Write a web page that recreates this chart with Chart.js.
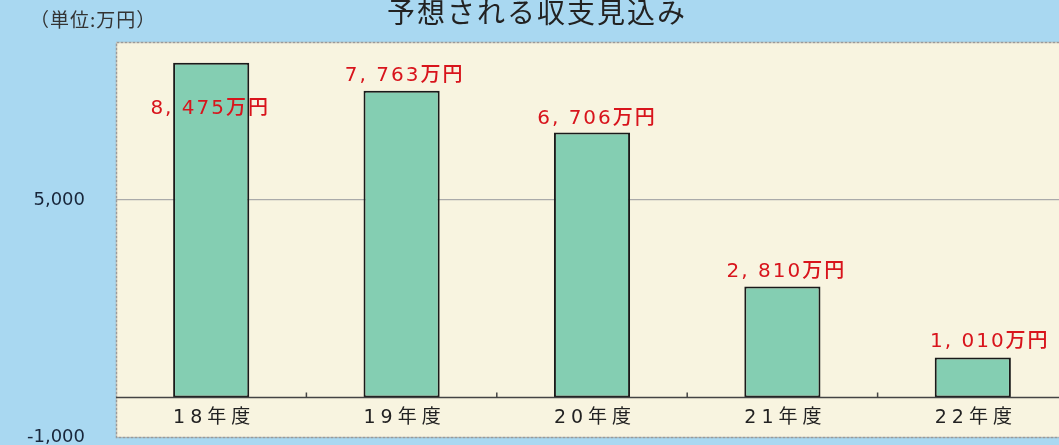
<!DOCTYPE html>
<html>
<head>
<meta charset="utf-8">
<script src="https://cdn.jsdelivr.net/npm/chart.js@4.4.1/dist/chart.umd.min.js"></script>
<style>
  html, body { margin: 0; padding: 0; overflow: hidden; background: #a9d8f1; }
</style>
</head>
<body>
<canvas id="grafico" width="1068" height="445"></canvas>
<script>
// データ
const nendo = ["18年度", "19年度", "20年度", "21年度", "22年度"];
const shushi = [8475, 7763, 6706, 2810, 1010];
const rabel = ["8, 475万円", "7, 763万円", "6, 706万円", "2, 810万円", "1, 010万円"];
const yTicks = [-1000, 5000];
const taitoru = "予想される収支見込み";
const tani = "（単位:万円）";

const fontJP = "'Noto Sans CJK JP', sans-serif";
const fontNum = "'DejaVu Sans', 'Noto Sans CJK JP', sans-serif";

// 背景・枠・文字
const haikei = {
  id: "haikei",
  beforeDraw(chart) {
    const { ctx, chartArea: a } = chart;
    ctx.save();
    ctx.fillStyle = "#a9d8f1";
    ctx.fillRect(0, 0, chart.width, chart.height);
    ctx.fillStyle = "#f8f4e0";
    ctx.fillRect(a.left, a.top, a.right - a.left, a.bottom - a.top);
    ctx.strokeStyle = "#9a9a9a";
    ctx.lineWidth = 1.5;
    ctx.setLineDash([3, 1]);
    ctx.strokeRect(a.left + 0.5, a.top + 0.5, a.right - a.left + 5, a.bottom - a.top);
    ctx.setLineDash([]);
    // タイトル
    ctx.fillStyle = "#222";
    ctx.font = "28px " + fontJP;
    ctx.letterSpacing = "2px";
    ctx.textAlign = "center";
    ctx.textBaseline = "middle";
    ctx.fillText(taitoru, 537, 12);
    ctx.font = "19px " + fontJP;
    ctx.letterSpacing = "1px";
    ctx.textAlign = "left";
    ctx.fillStyle = "#333";
    ctx.fillText(tani, 30, 20);
    ctx.restore();
  },
  afterDatasetsDraw(chart) {
    const { ctx, chartArea: a } = chart;
    const x = chart.scales.x, y = chart.scales.y;
    const y0 = y.getPixelForValue(0);
    ctx.save();
    // 基線
    ctx.strokeStyle = "#444";
    ctx.lineWidth = 1.5;
    ctx.beginPath();
    ctx.moveTo(a.left, y0);
    ctx.lineTo(a.right, y0);
    ctx.stroke();
    // 目盛り
    for (let i = 0; i < nendo.length - 1; i++) {
      const px = (x.getPixelForValue(i) + x.getPixelForValue(i + 1)) / 2;
      ctx.beginPath();
      ctx.moveTo(px, y0);
      ctx.lineTo(px, y0 - 5);
      ctx.stroke();
    }
    // 年度ラベル
    ctx.fillStyle = "#222";
    ctx.font = "19px " + fontNum;
    ctx.letterSpacing = "5px";
    ctx.textAlign = "center";
    ctx.textBaseline = "middle";
    nendo.forEach((n, i) => ctx.fillText(n, x.getPixelForValue(i) + 3, y0 + 21));
    // 金額ラベル
    const dx = [0, 4, 6, 5, 18];
    const dy = [46, -15, -14, -15, -16];
    ctx.fillStyle = "#d8141c";
    ctx.font = "500 20px " + fontNum;
    ctx.letterSpacing = "2px";
    shushi.forEach((v, i) => {
      ctx.fillText(rabel[i], x.getPixelForValue(i) + dx[i] - 1, y.getPixelForValue(v) + dy[i]);
    });
    ctx.restore();
  }
};

const ctx = document.getElementById("grafico").getContext("2d");
new Chart(ctx, {
  type: "bar",
  data: {
    labels: nendo,
    datasets: [{
      data: shushi,
      backgroundColor: "#84ceb2",
      borderColor: "#1a1a1a",
      borderWidth: 2,
      borderSkipped: false,
      barPercentage: 0.8,
      categoryPercentage: 0.5
    }]
  },
  options: {
    responsive: false,
    animation: false,
    layout: { padding: { top: 42, bottom: 8, left: 0, right: 0 } },
    plugins: { legend: { display: false }, tooltip: { enabled: false } },
    scales: {
      x: { display: false, offset: true },
      y: {
        min: -1000,
        max: 9000,
        afterBuildTicks(scale) { scale.ticks = yTicks.map(v => ({ value: v })); },
        afterFit(scale) {
          scale.width = 116;
          scale.paddingTop = 0;
          scale.paddingBottom = 0;
        },
        border: { display: false },
        grid: {
          drawTicks: false,
          color: (c) => (c.tick && c.tick.value === 5000 ? "#aaa" : "rgba(0,0,0,0)"),
          lineWidth: 1.2
        },
        ticks: {
          padding: 31,
          color: "#18263a",
          font: { family: "'DejaVu Sans', sans-serif", size: 18 },
          callback: (v) => v.toLocaleString("en-US")
        }
      }
    }
  },
  plugins: [haikei]
});
</script>
</body>
</html>
